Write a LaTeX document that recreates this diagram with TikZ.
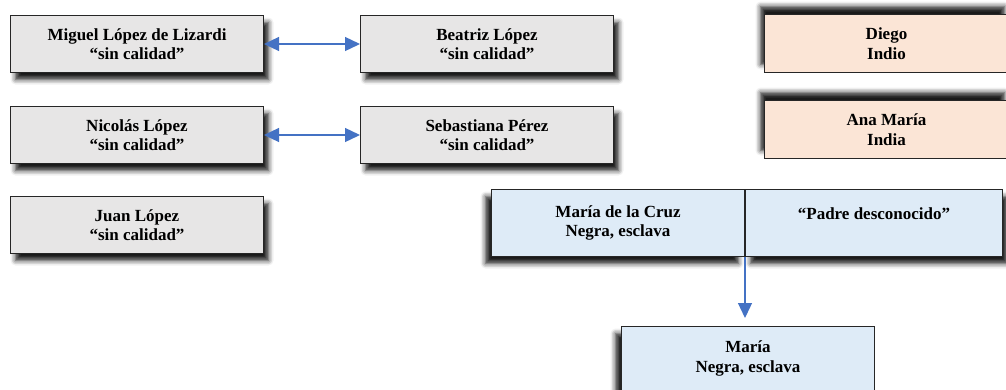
\documentclass[tikz,border=0pt]{standalone}
\usepackage{fontspec}
\setmainfont{Liberation Serif}
\usetikzlibrary{arrows.meta,shadows.blur}
\definecolor{grayfill}{RGB}{231,230,230}
\definecolor{peachfill}{RGB}{251,229,214}
\definecolor{bluefill}{RGB}{222,235,247}
\definecolor{arrowblue}{RGB}{68,114,196}
\tikzset{
  box/.style={draw=black!85, line width=1pt, rectangle, anchor=north west, align=center,
    font=\fontsize{17}{19.5}\selectfont\bfseries, inner sep=0pt},
  grbox/.style={box, fill=grayfill, minimum width=253pt, minimum height=57pt,
    blur shadow={shadow xshift=5pt, shadow yshift=-7pt, shadow blur radius=5pt, shadow opacity=90}},
  pebox/.style={box, fill=peachfill, minimum width=244pt, minimum height=58pt,
    blur shadow={shadow xshift=-4pt, shadow yshift=8pt, shadow blur radius=5pt, shadow opacity=90}},
  blbox/.style={box, fill=bluefill, minimum height=67pt},
  link/.style={draw=arrowblue, line width=1.3pt},
  tip/.tip={Triangle[length=15pt,width=14pt]}
}
\begin{document}
\begin{tikzpicture}[x=1pt,y=-1pt]
\useasboundingbox (0,0) rectangle (1006,389);
\begin{scope}
\clip (0,0) rectangle (1006,389);
\node[grbox] (miguel) at (10,15) {Miguel López de Lizardi\\“sin calidad”};
\node[grbox] (beatriz) at (360,15) {Beatriz López\\“sin calidad”};
\node[grbox] (nicolas) at (10,106) {Nicolás López\\“sin calidad”};
\node[grbox] (sebastiana) at (360,106) {Sebastiana Pérez\\“sin calidad”};
\node[grbox] (juan) at (10,196) {Juan López\\“sin calidad”};
\node[pebox] (diego) at (764,14) {Diego\\Indio};
\node[pebox] (ana) at (764,100) {Ana María\\India};
\node[blbox, minimum width=253pt,
  blur shadow={shadow xshift=-6pt, shadow yshift=-7pt, shadow blur radius=5pt, shadow opacity=90}]
  (mcruz) at (491,189) {María de la Cruz\\Negra, esclava};
\node[blbox, minimum width=257pt,
  blur shadow={shadow xshift=5pt, shadow yshift=-7pt, shadow blur radius=5pt, shadow opacity=90}]
  (padre) at (745,189) {“Padre desconocido”\\\phantom{X}};
\node[blbox, minimum width=253pt, minimum height=64pt,
  blur shadow={shadow xshift=-6pt, shadow yshift=-7pt, shadow blur radius=5pt, shadow opacity=90}]
  (maria) at (621,326) {María\\Negra, esclava};
\end{scope}
\coordinate (down) at (744,318);
\draw[link, {tip}-{tip}] (miguel.east) -- (beatriz.west);
\draw[link, {tip}-{tip}] (nicolas.east) -- (sebastiana.west);
\draw[link, -{tip}] (mcruz.south east) -- (mcruz.south east |- down);
\end{tikzpicture}
\end{document}
